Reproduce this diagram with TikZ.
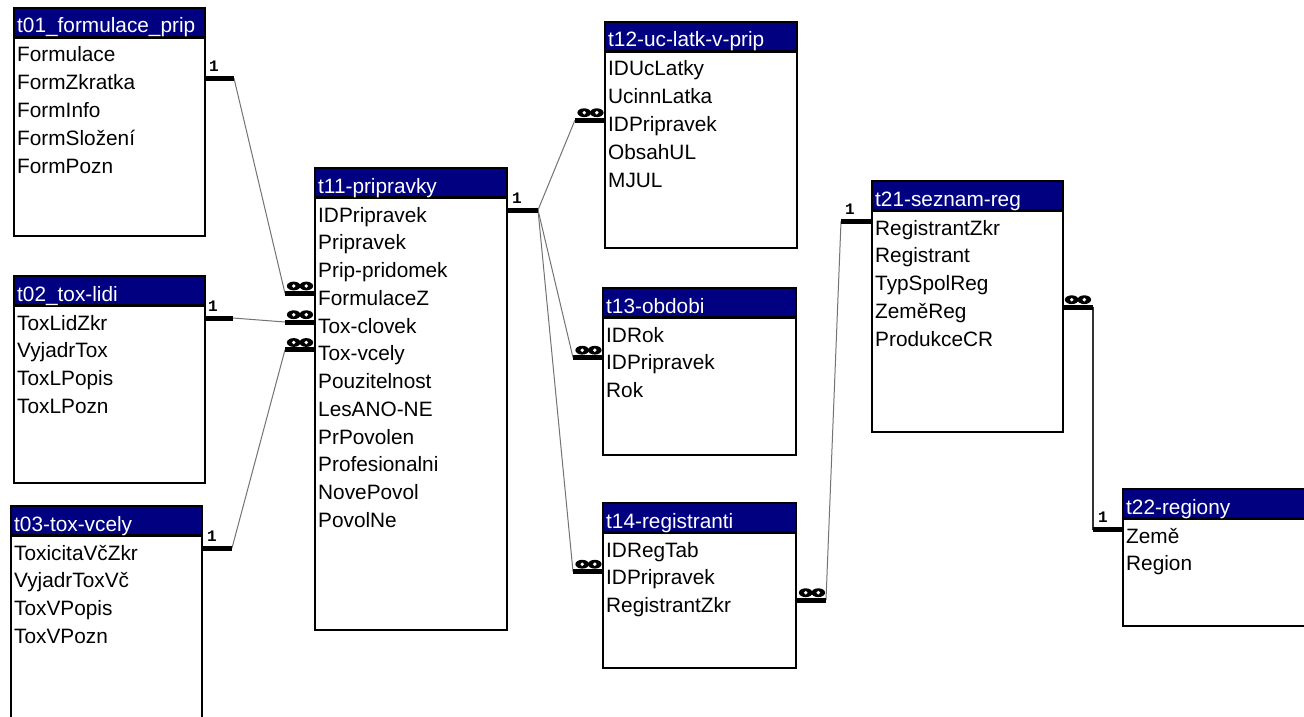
\documentclass[tikz,border=0pt]{standalone}
\usepackage{fontspec}
\setmainfont{Liberation Sans}
\newfontfamily\onefont{Liberation Mono}
\definecolor{hdrblue}{RGB}{0,0,128}
\tikzset{
  tablebg/.style={fill=white, inner sep=0pt, outer sep=0pt, anchor=north west},
  frame/.style={draw=black, line width=2pt},
  hdrtext/.style={text=white, font=\fontsize{20.8}{24}\selectfont, inner sep=0pt, anchor=base west},
  rowtext/.style={text=black, font=\fontsize{20.8}{24}\selectfont, inner sep=0pt, anchor=base west},
  relbar/.style={line width=5pt, black},
  relline/.style={line width=1pt, black!55},
  onelabel/.style={font=\onefont\bfseries\fontsize{16}{16}\selectfont, inner sep=0pt, anchor=base},
}
% name, L, T, R, B, title, rows
\newcommand{\dbtable}[7]{%
  \node[tablebg, minimum width={(#4-#2)*1pt}, minimum height={(#5-#3)*1pt}] (#1) at (#2,#3) {};
  \fill[hdrblue] (#2,#3) rectangle (#4,#3+28);
  \draw[line width=3pt] (#2,#3+29.5) -- (#4,#3+29.5);
  \node[hdrtext] (#1-h) at (#2+3,#3+25) {#6};
  \foreach \r [count=\i] in {#7} {
    \node[rowtext] (#1-r\i) at (#2+3,{#3+54+27.75*(\i-1)}) {\r};
  }
  \draw[frame] (#1.north west) rectangle (#1.south east);
}
% name, x centre, y of bar
\newcommand{\infmark}[3]{%
  \fill[black] (#2-6.3,#3-7.3) ellipse [x radius=6.8pt, y radius=4.4pt];
  \fill[black] (#2+6.3,#3-7.3) ellipse [x radius=6.8pt, y radius=4.4pt];
  \fill[white] (#2-6.3,#3-7.3) circle [radius=1.9pt];
  \fill[white] (#2+6.3,#3-7.3) circle [radius=1.9pt];
  \coordinate (#1) at (#2,#3-7.3);
}
\begin{document}
\begin{tikzpicture}[x=1pt,y=-1pt]
\useasboundingbox (0,0) rectangle (1304,717);
\clip (0,0) rectangle (1304,717);
\fill[white] (0,0) rectangle (1304,717);

\dbtable{t01}{14}{8}{205}{236}{t01\_formulace\_prip}{Formulace,FormZkratka,FormInfo,FormSložení,FormPozn}
\dbtable{t02}{14}{276}{205}{483}{t02\_tox-lidi}{ToxLidZkr,VyjadrTox,ToxLPopis,ToxLPozn}
\dbtable{t03}{11}{506}{202}{740}{t03-tox-vcely}{ToxicitaVčZkr,VyjadrToxVč,ToxVPopis,ToxVPozn}
\dbtable{t11}{315}{168}{507}{630}{t11-pripravky}{IDPripravek,Pripravek,Prip-pridomek,FormulaceZ,Tox-clovek,Tox-vcely,Pouzitelnost,LesANO-NE,PrPovolen,Profesionalni,NovePovol,PovolNe}
\dbtable{t12}{605}{22}{797}{248}{t12-uc-latk-v-prip}{IDUcLatky,UcinnLatka,IDPripravek,ObsahUL,MJUL}
\dbtable{t13}{603}{288}{796}{455}{t13-obdobi}{IDRok,IDPripravek,Rok}
\dbtable{t14}{603}{503}{796}{668}{t14-registranti}{IDRegTab,IDPripravek,RegistrantZkr}
\dbtable{t21}{872}{181}{1063}{432}{t21-seznam-reg}{RegistrantZkr,Registrant,TypSpolReg,ZeměReg,ProdukceCR}
\dbtable{t22}{1123}{489}{1330}{626}{t22-regiony}{Země,Region}

% bar end points
\coordinate (a01) at (205,78.3);   \coordinate (e01) at (234,78.3);
\coordinate (a02) at (205,318);    \coordinate (e02) at (233,318);
\coordinate (a03) at (202,548);    \coordinate (e03) at (232,548);
\coordinate (a11a) at (315,293.3); \coordinate (e11a) at (285,293.3);
\coordinate (a11b) at (315,322);   \coordinate (e11b) at (285,322);
\coordinate (a11c) at (315,349.8); \coordinate (e11c) at (285,349.8);
\coordinate (a11r) at (507,210);   \coordinate (e11r) at (538,210);
\coordinate (a12) at (605,120);    \coordinate (e12) at (575,120);
\coordinate (a13) at (603,357.5);  \coordinate (e13) at (573,357.5);
\coordinate (a14) at (603,571.5);  \coordinate (e14) at (573,571.5);
\coordinate (a14r) at (796,600);   \coordinate (e14r) at (826,600);
\coordinate (a21) at (872,221.5);  \coordinate (e21) at (841,221.5);
\coordinate (a21r) at (1063,307);  \coordinate (e21r) at (1093,307);
\coordinate (a22) at (1123,529.7); \coordinate (e22) at (1093,529.7);

% connector lines
\draw[relline] (e01) -- (e11a);
\draw[relline] (e02) -- (e11b);
\draw[relline] (e03) -- (e11c);
\draw[relline] (e11r) -- (e12);
\draw[relline] (e11r) -- (e13);
\draw[relline] (e11r) -- (e14);
\draw[relline] (e14r) -- (e21);
\draw[line width=1.2pt, black!80] (e21r) -- (e22);

% bars
\foreach \p in {01,02,03,11a,11b,11c,11r,12,13,14,14r,21,21r,22}
  \draw[relbar] (a\p) -- (e\p);

% "1" labels
\node[onelabel] (l01) at (214,71.3) {1};
\node[onelabel] (l02) at (213,311) {1};
\node[onelabel] (l03) at (212,541) {1};
\node[onelabel] (l11) at (517,203) {1};
\node[onelabel] (l21) at (850,214.5) {1};
\node[onelabel] (l22) at (1103,522.7) {1};

% infinity marks
\infmark{m11a}{300}{293.3}
\infmark{m11b}{300}{322}
\infmark{m11c}{300}{349.8}
\infmark{m12}{590.5}{120}
\infmark{m13}{588.5}{357.5}
\infmark{m14}{588.5}{571.5}
\infmark{m14r}{812}{600}
\infmark{m21r}{1078}{307}
\end{tikzpicture}
\end{document}
